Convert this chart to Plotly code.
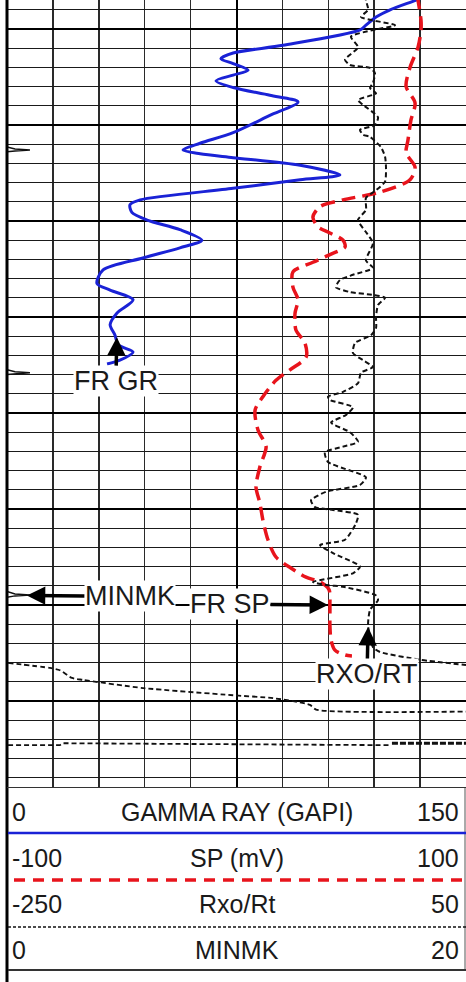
import plotly.graph_objects as go

FIG_W, FIG_H = 466, 982

# ---------------- data (depth in ft, values in curve units) ----------------
gr_depth = [996.5, 997.0, 998.0, 998.75, 999.6, 1000.1, 1001.7, 1002.5, 1003.1, 1003.6,
            1004.3, 1004.8, 1005.4, 1006.1, 1006.9, 1007.6, 1009.0, 1010.8, 1011.9, 1012.6,
            1013.0, 1013.4, 1014.2, 1015.2, 1015.7, 1016.6, 1017.8, 1018.3, 1019.1, 1019.9,
            1020.9, 1022.0, 1022.8, 1023.85, 1025.1, 1026.5, 1027.2, 1028.2, 1029.6, 1030.8,
            1031.9, 1032.9, 1033.65, 1034.5, 1034.9]
gr_gapi = [137.6, 133.7, 125.2, 120.6, 117.3, 115.4, 90.2, 73.9, 69.9, 73.9,
           78.8, 73.9, 68.3, 73.9, 85.9, 95.1, 85.9, 73.9, 63.1, 57.5,
           63.1, 73.9, 95.8, 108.8, 95.8, 73.9, 43.5, 40.2, 40.8, 45.8,
           56.5, 63.7, 56.5, 44.4, 31.4, 29.4, 33.7, 41.2, 35.9, 33.7,
           35.3, 36.3, 41.2, 36.9, 32.7]

sp_depth = [996.5, 997.0, 999.1, 1000.1, 1001.9, 1004.0, 1006.0, 1007.7, 1009.5, 1011.6,
            1012.9, 1014.4, 1015.7, 1017.0, 1017.8, 1018.5, 1019.6, 1020.6, 1021.25, 1022.0,
            1022.7, 1023.5, 1024.3, 1025.3, 1026.9, 1028.2, 1029.6, 1031.35, 1032.7, 1034.2,
            1035.5, 1036.6, 1038.3, 1039.7, 1041.8, 1043.5, 1045.6, 1047.7, 1049.4, 1051.15,
            1053.2, 1055.0, 1056.15, 1057.1, 1057.6, 1058.4, 1060.0, 1062.1, 1063.65, 1064.7,
            1065.2, 1065.3]
sp_mv = [78.7, 79.1, 80.4, 80.4, 79.1, 75.6, 73.9, 77.8, 76.0, 74.7,
         73.9, 77.8, 75.6, 62.5, 46.4, 36.4, 33.3, 35.5, 40.7, 46.4,
         47.3, 40.7, 33.3, 24.6, 24.6, 26.8, 25.5, 25.9, 29.8, 30.3,
         23.3, 17.2, 11.5, 8.1, 9.4, 12.9, 10.2, 8.5, 10.2, 11.5,
         13.7, 17.2, 23.7, 30.3, 36.4, 40.3, 40.7, 40.7, 41.2, 42.9,
         47.3, 50.3]

rxo_depth = [996.5, 997.0, 998.0, 998.75, 999.6, 1000.1, 1000.8, 1001.9, 1003.2, 1003.75,
             1004.06, 1004.6, 1005.6, 1006.15, 1006.7, 1007.4, 1007.9, 1009.2, 1010.0, 1010.5,
             1011.0, 1011.25, 1012.3, 1013.3, 1014.4, 1015.9, 1016.8, 1017.6, 1018.85, 1019.9,
             1021.15, 1022.3, 1024.1, 1024.9, 1025.6, 1026.15, 1026.9, 1027.4, 1027.7, 1028.0,
             1028.75, 1030.0, 1031.15, 1031.9, 1032.7, 1033.75, 1034.5, 1035.2, 1035.8, 1036.9,
             1037.8, 1038.3, 1038.65, 1039.4, 1040.2, 1041.0, 1042.0, 1043.0, 1043.5, 1044.1,
             1045.1, 1046.7, 1047.5, 1048.2, 1049.1, 1049.8, 1050.1, 1050.6, 1051.5, 1053.2,
             1053.75, 1054.6, 1056.0, 1056.7, 1057.6, 1057.9, 1058.1, 1059.0, 1059.5, 1060.5,
             1062.1, 1064.4, 1064.9, 1065.7, 1066.25]
rxo_rt = [-15.4, -15.4, -14.0, -18.6, 3.6, -10.8, -25.2, -20.6, -29.1, -25.8,
          -12.7, -9.5, -10.8, -12.7, -8.8, -20.6, -17.3, -7.5, -9.5, -19.3,
          -17.3, -12.7, -5.6, -2.9, -2.3, -2.9, -8.8, -15.4, -15.4, -20.6,
          -15.4, -10.8, -15.4, -10.8, -23.9, -32.4, -35.0, -25.8, -10.8, -2.9,
          -7.5, -8.8, -8.8, -12.1, -22.5, -23.9, -17.3, -10.8, -18.6, -20.6,
          -30.4, -40.2, -38.8, -23.9, -28.4, -38.2, -25.8, -20.6, -30.4, -42.2,
          -40.2, -15.4, -19.3, -41.5, -51.3, -48.7, -36.9, -20.6, -21.9, -29.1,
          -45.4, -36.9, -19.3, -23.9, -50.0, -42.2, -30.4, -8.8, -7.5, -12.7,
          -14.0, -10.8, -6.2, 19.9, 50.0]

# Rxo/Rt backup (wrapped) trace
rxo_bk_depth = [1066.04, 1066.56, 1066.8, 1067.6, 1067.8, 1068.65, 1069.4, 1069.7, 1070.4, 1070.9, 1071.1]
rxo_bk_val = [-249.3, -221.9, -215.4, -207.5, -200.3, -161.1, -102.3, -76.1, -52.0, -48.0, 50.0]

# lower flat dashed trace
low_depth = [1074.6, 1074.6, 1074.4, 1074.5, 1074.6]
low_val = [-249.3, -215.4, -213.4, -102.3, 0.3]
low2_depth = [1074.4, 1074.4]
low2_val = [1.6, 50.0]

minmk_depth = [996.5, 1012.3, 1012.5, 1012.6, 1012.7, 1012.8, 1035.5, 1035.7, 1035.8,
               1035.9, 1036.0, 1058.6, 1058.85, 1058.96, 1059.05, 1059.2, 1079.5]
minmk_val = [0, 0, 0.35, 1.0, 0.35, 0, 0, 0.35, 1.0, 0.35, 0, 0, 0.35, 1.0, 0.35, 0, 0]

# legend rows: (left value, title, right value)
leg_left = ["0", "-100", "-250", "0"]
leg_title = ["GAMMA RAY (GAPI)", "SP (mV)", "Rxo/Rt", "MINMK"]
leg_right = ["150", "100", "50", "20"]

GR_RANGE = [0, 150]
SP_RANGE = [-100, 100]
RXO_RANGE = [-250, 50]
MINMK_RANGE = [0, 20]
DEPTH_RANGE = [1079.0625, 996.979]

BLUE = "#1a22d6"
RED = "#e8141c"
BLACK = "#111111"
FONT = "Liberation Sans, Arial, sans-serif"

# ---------------- layout helpers (figure pixel -> paper) ----------------
def px(x):
    return x / FIG_W

def py(y):
    return 1 - y / FIG_H

PLOT_L, PLOT_B = 7, 788
xdom = [px(PLOT_L), 1.0]
ydom = [py(PLOT_B), 1.0]

fig = go.Figure()

fig.add_trace(go.Scatter(x=minmk_val, y=minmk_depth, xaxis="x4", mode="lines",
                         line=dict(color=BLACK, width=1.5), hoverinfo="skip"))
fig.add_trace(go.Scatter(x=low_val, y=low_depth, xaxis="x3", mode="lines",
                         line=dict(color=BLACK, width=1.8, dash="5px,3px"), hoverinfo="skip"))
fig.add_trace(go.Scatter(x=low2_val, y=low2_depth, xaxis="x3", mode="lines",
                         line=dict(color=BLACK, width=3, dash="6px,2px"), hoverinfo="skip"))
fig.add_trace(go.Scatter(x=rxo_bk_val, y=rxo_bk_depth, xaxis="x3", mode="lines",
                         line=dict(color=BLACK, width=1.8, dash="5px,3px", shape="spline", smoothing=0.6),
                         hoverinfo="skip"))
fig.add_trace(go.Scatter(x=rxo_rt, y=rxo_depth, xaxis="x3", mode="lines",
                         line=dict(color=BLACK, width=2, dash="5px,3px", shape="spline", smoothing=0.6),
                         hoverinfo="skip"))
fig.add_trace(go.Scatter(x=sp_mv, y=sp_depth, xaxis="x2", mode="lines",
                         line=dict(color=RED, width=3.5, dash="14px,7px", shape="spline", smoothing=0.8),
                         hoverinfo="skip"))
fig.add_trace(go.Scatter(x=gr_gapi, y=gr_depth, xaxis="x", mode="lines",
                         line=dict(color=BLUE, width=3, shape="spline", smoothing=0.8),
                         hoverinfo="skip"))

hidden = dict(visible=False, domain=xdom, overlaying="x", anchor="y")
fig.update_layout(
    width=FIG_W, height=FIG_H,
    margin=dict(l=0, r=0, t=0, b=0),
    paper_bgcolor="white", plot_bgcolor="white",
    showlegend=False,
    font=dict(family=FONT, color="#1a1a1a"),
    xaxis=dict(domain=xdom, range=GR_RANGE, tick0=0, dtick=75, showgrid=True,
               gridcolor="#000000", gridwidth=2, showticklabels=False, ticks="",
               zeroline=False, showline=False, fixedrange=True,
               minor=dict(tick0=0, dtick=15, showgrid=True, gridcolor="#2a2a2a", gridwidth=1.5)),
    xaxis2=dict(range=SP_RANGE, **hidden),
    xaxis3=dict(range=RXO_RANGE, **hidden),
    xaxis4=dict(range=MINMK_RANGE, **hidden),
    yaxis=dict(domain=ydom, range=DEPTH_RANGE, tick0=1000, dtick=10, showgrid=True,
               gridcolor="#000000", gridwidth=2.5, showticklabels=False, ticks="",
               zeroline=False, showline=False, fixedrange=True,
               minor=dict(tick0=1000, dtick=2, showgrid=True, gridcolor="#1a1a1a", gridwidth=1.3)),
)

shapes = []
# left border (track + header)
shapes.append(dict(type="line", xref="paper", yref="paper", x0=px(7), x1=px(7), y0=py(0), y1=py(982),
                   line=dict(color="#000000", width=3)))
# track bottom / header top
shapes.append(dict(type="line", xref="paper", yref="paper", x0=px(7), x1=px(466), y0=py(787.5), y1=py(787.5),
                   line=dict(color="#333333", width=1)))
# header right border
shapes.append(dict(type="line", xref="paper", yref="paper", x0=px(465), x1=px(465), y0=py(788), y1=py(970),
                   line=dict(color="#555555", width=1)))
# header curve samples
shapes.append(dict(type="line", xref="paper", yref="paper", x0=px(8), x1=px(466), y0=py(833), y1=py(833),
                   line=dict(color=BLUE, width=2.5)))
shapes.append(dict(type="line", xref="paper", yref="paper", x0=px(14), x1=px(466), y0=py(880), y1=py(880),
                   line=dict(color=RED, width=3.5, dash="11px,8px")))
shapes.append(dict(type="line", xref="paper", yref="paper", x0=px(8), x1=px(466), y0=py(927), y1=py(927),
                   line=dict(color=BLACK, width=1.5, dash="3px,2px")))
shapes.append(dict(type="line", xref="paper", yref="paper", x0=px(8), x1=px(466), y0=py(970), y1=py(970),
                   line=dict(color="#333333", width=2)))
fig.update_layout(shapes=shapes)

annotations = []
row_y = [811.5, 857.5, 903.5, 950]
for lv, tt, rv, yy in zip(leg_left, leg_title, leg_right, row_y):
    annotations.append(dict(xref="paper", yref="paper", x=px(10), y=py(yy), text=lv, showarrow=False,
                            xanchor="left", yanchor="middle", font=dict(size=25, family=FONT, color="#1a1a1a")))
    annotations.append(dict(xref="paper", yref="paper", x=px(237), y=py(yy), text=tt, showarrow=False,
                            xanchor="center", yanchor="middle", font=dict(size=25, family=FONT, color="#1a1a1a")))
    annotations.append(dict(xref="paper", yref="paper", x=px(461), y=py(yy), text=rv, showarrow=False,
                            xanchor="right", yanchor="middle", font=dict(size=25, family=FONT, color="#1a1a1a")))

# track callouts: (label, tip x in GAPI units, tip depth, text offset px)
callouts = [
    ("FR GR", 35.9, 1032.1, -1, 44),
    ("MINMK", 6.5, 1059.0, 103, 1),
    ("FR SP", 104.9, 1060.0, -98, -1),
    ("RXO/RT", 118.0, 1062.3, -1, 47),
]
for txt, cx, cy, axp, ayp in callouts:
    annotations.append(dict(x=cx, y=cy, xref="x", yref="y", text=txt, showarrow=True,
                            ax=axp, ay=ayp, arrowhead=2, arrowsize=1.05, arrowwidth=3.5,
                            arrowcolor="#000000", standoff=0, bgcolor="white", borderpad=0,
                            font=dict(size=27, family=FONT, color="#1a1a1a")))
fig.update_layout(annotations=annotations)

fig.write_html("out.html",
               config={"displayModeBar": False, "staticPlot": True},
               post_script="document.body.style.margin='0px';document.body.style.padding='0px';"
                           "document.body.style.overflow='hidden';")
